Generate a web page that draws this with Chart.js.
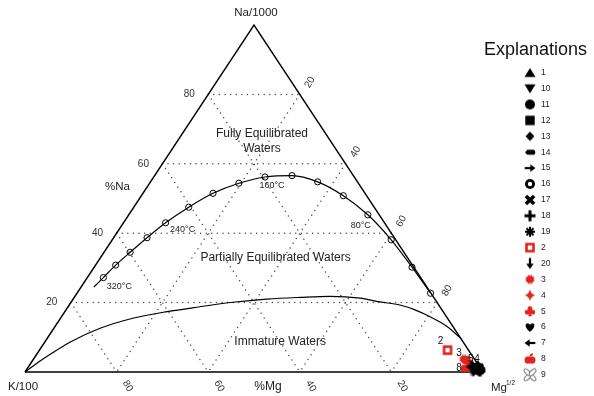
<!DOCTYPE html>
<html><head><meta charset="utf-8">
<script src="https://cdn.jsdelivr.net/npm/chart.js@4.4.1/dist/chart.umd.min.js"></script>
<style>html,body{margin:0;padding:0;background:#fff;}canvas{display:block;}</style>
</head><body>
<canvas id="c" width="594" height="396"></canvas>
<script>
// ---------------- DATA (ternary percentages: Na/1000, K/100, Mg^1/2) ----------------
const gridTicks = [20, 40, 60, 80];
const leftTickLabels = ['20', '40', '60', '80'];     // %Na at Na = 20..80
const rightTickLabels = ['80', '60', '40', '20'];    // along Na-Mg side at Na = 20..80
const bottomTickLabels = ['80', '60', '40', '20'];   // along base at Mg = 20..80

// Full-equilibrium line (temperature marks every 20 °C)
const eqTempC = [null, 320, 300, 280, 260, 240, 220, 200, 180, 160, 140, 120, 100, 80, 60, 40, 20];
const eqNa = [24.5, 27.2, 30.8, 34.5, 38.7, 43.0, 47.5, 51.5, 54.4, 56.2, 56.6, 54.8, 50.8, 45.3, 38.1, 30.2, 22.7];
const eqMg = [2.8, 3.5, 4.4, 5.7, 7.3, 9.2, 12.0, 15.3, 19.5, 24.3, 30.0, 36.5, 44.1, 52.2, 60.9, 69.4, 77.2];
const eqTempLabels = [320, 240, 160, 80];

// Immature-waters boundary
const immNa = [0, 3.2, 5.5, 8.6, 12.6, 15.5, 17.4, 18.8, 20.1, 21.0, 21.5, 21.8, 21.3, 20.2, 19.3, 17.9, 15.9, 13.1, 9.7];
const immMg = [0, 1.7, 3.2, 5.5, 10.1, 15.8, 22.3, 28.8, 35.4, 42.3, 49.3, 55.7, 62.5, 67.4, 72.2, 76.2, 80.5, 85.6, 90.3];

// Samples
const sampleNames = ['1', '10', '11', '12', '13', '14', '15', '16', '17', '18', '19', '2', '20', '3', '4', '5', '6', '7', '8', '9'];
const sampleNa = [0.8, 1.2, 0.5, 1.0, 1.6, 0.4, 1.3, 0.6, 1.8, 0.3, 1.1, 6.3, 0.2, 3.7, 2.3, 3.2, 0.9, 1.5, 1.4, 0.7];
const sampleK  = [0.6, 0.5, 0.8, 1.0, 0.4, 1.4, 1.2, 0.3, 0.9, 0.6, 0.2, 4.6, 2.0, 2.3, 1.7, 1.7, 1.6, 1.8, 3.0, 1.1];
const sampleMg = [98.6, 98.3, 98.7, 98.0, 98.0, 98.2, 97.5, 99.1, 97.3, 99.1, 98.7, 89.1, 97.8, 94.0, 96.0, 95.1, 97.5, 96.7, 95.6, 98.2];
const labelledSamples = ['2', '3', '5', '4', '8'];

const regionLabels = [['Fully Equilibrated', 'Waters'], ['Partially Equilibrated Waters'], ['Immature Waters']];

// ---------------- STYLE / LAYOUT ----------------
const FONT = '"Liberation Sans", Arial, sans-serif';
const RED = '#e3231d';
const sampleSymbols = ['triUp', 'triDown', 'circle', 'square', 'diamond', 'tag', 'arrowR', 'bull', 'xheavy', 'plus', 'aster', 'hollowSq', 'arrowD', 'sun', 'star4', 'club', 'heart', 'arrowL', 'apple', 'prop'];
const redSamples = ['2', '3', '4', '5', '8'];
const sampleLabelOffset = { '2': [-7, -9], '3': [-5, -6], '5': [3, -2], '4': [7, -5], '8': [-7, 1] };
const tempLabelOffset = { 320: [16, 9], 240: [17, 7], 160: [7, 9], 80: [-7, 11] };

function tern(na, k, mg) {
  const s = na + k + mg;
  return { x: (mg + na / 2) * 100 / s, y: na * 100 / s };
}

// symbol drawers (centred at 0,0)
const D = {
  triUp: c => { c.beginPath(); c.moveTo(0, -4.8); c.lineTo(5.5, 4.3); c.lineTo(-5.5, 4.3); c.closePath(); c.fill(); },
  triDown: c => { c.beginPath(); c.moveTo(0, 4.8); c.lineTo(5.5, -4.3); c.lineTo(-5.5, -4.3); c.closePath(); c.fill(); },
  circle: c => { c.beginPath(); c.arc(0, 0, 5, 0, 2 * Math.PI); c.fill(); },
  square: c => { c.fillRect(-4.7, -4.7, 9.4, 9.4); },
  diamond: c => { c.beginPath(); c.moveTo(0, -4.8); c.lineTo(4.4, 0); c.lineTo(0, 4.8); c.lineTo(-4.4, 0); c.closePath(); c.fill(); },
  tag: c => { c.beginPath(); c.moveTo(-5, 0.3); c.lineTo(-2.8, -2.5); c.lineTo(3.8, -2.5); c.quadraticCurveTo(5.3, -2.5, 5.3, 0); c.quadraticCurveTo(5.3, 2.5, 3.8, 2.5); c.lineTo(-2.8, 2.5); c.closePath(); c.fill(); },
  arrowR: c => { c.fillRect(-5.3, -1.1, 6.5, 2.2); c.beginPath(); c.moveTo(0.3, -3.8); c.lineTo(5.5, 0); c.lineTo(0.3, 3.8); c.closePath(); c.fill(); },
  arrowL: c => { c.fillRect(-1.2, -1.1, 6.5, 2.2); c.beginPath(); c.moveTo(-0.3, -3.8); c.lineTo(-5.5, 0); c.lineTo(-0.3, 3.8); c.closePath(); c.fill(); },
  arrowD: c => { c.fillRect(-1.1, -5.5, 2.2, 6.5); c.beginPath(); c.moveTo(-3.8, 0.2); c.lineTo(0, 5.5); c.lineTo(3.8, 0.2); c.closePath(); c.fill(); },
  bull: c => { c.beginPath(); c.arc(0, 0, 5, 0, 2 * Math.PI); c.fill(); c.fillStyle = '#fff'; c.beginPath(); c.arc(0, 0, 2.2, 0, 2 * Math.PI); c.fill(); },
  xheavy: c => { c.save(); c.rotate(Math.PI / 4); c.fillRect(-5.8, -1.8, 11.6, 3.6); c.fillRect(-1.8, -5.8, 3.6, 11.6); c.restore(); },
  plus: c => { c.fillRect(-5.5, -1.5, 11, 3); c.fillRect(-1.5, -5.5, 3, 11); },
  aster: c => { c.lineWidth = 2; c.lineCap = 'butt'; for (let i = 0; i < 4; i++) { const a = i * Math.PI / 4; c.beginPath(); c.moveTo(-5 * Math.cos(a), -5 * Math.sin(a)); c.lineTo(5 * Math.cos(a), 5 * Math.sin(a)); c.stroke(); } },
  hollowSq: c => { c.fillStyle = RED; c.fillRect(-4.8, -4.8, 9.6, 9.6); c.fillStyle = '#fff'; c.fillRect(-2.2, -2.2, 4.4, 4.4); },
  sun: c => { c.fillStyle = RED; c.beginPath(); const n = 16; for (let i = 0; i < 2 * n; i++) { const r = i % 2 ? 3.4 : 5.3; const a = i * Math.PI / n; c.lineTo(r * Math.cos(a), r * Math.sin(a)); } c.closePath(); c.fill(); },
  star4: c => { c.fillStyle = RED; c.beginPath(); c.moveTo(0, -6); c.quadraticCurveTo(0.9, -0.9, 5.5, 0); c.quadraticCurveTo(0.9, 0.9, 0, 6); c.quadraticCurveTo(-0.9, 0.9, -5.5, 0); c.quadraticCurveTo(-0.9, -0.9, 0, -6); c.fill(); },
  club: c => { c.fillStyle = RED; [[0, -2.7], [-2.8, 1], [2.8, 1]].forEach(p => { c.beginPath(); c.arc(p[0], p[1], 2.4, 0, 2 * Math.PI); c.fill(); }); c.beginPath(); c.arc(0, 0.3, 1.6, 0, 2 * Math.PI); c.fill(); c.beginPath(); c.moveTo(0, 0); c.lineTo(1.9, 5); c.lineTo(-1.9, 5); c.closePath(); c.fill(); },
  heart: c => { c.beginPath(); c.moveTo(0, 4.8); c.bezierCurveTo(-7, -0.5, -4.5, -6.5, 0, -2.6); c.bezierCurveTo(4.5, -6.5, 7, -0.5, 0, 4.8); c.fill(); },
  apple: c => { c.fillStyle = RED; c.beginPath(); c.arc(-1.9, 1.2, 3.6, 0, 2 * Math.PI); c.arc(1.9, 1.2, 3.6, 0, 2 * Math.PI); c.fill(); c.beginPath(); c.ellipse(1.4, -4.2, 1.9, 1.0, -0.6, 0, 2 * Math.PI); c.fill(); c.fillRect(-0.4, -3.6, 0.9, 2); },
  prop: c => { c.strokeStyle = '#8a8a8a'; c.fillStyle = '#fff'; c.lineWidth = 1.2; const ang = [Math.PI / 4, 3 * Math.PI / 4, 5 * Math.PI / 4, 7 * Math.PI / 4]; ang.forEach(a => { c.beginPath(); c.ellipse(3.6 * Math.cos(a), 3.6 * Math.sin(a), 4.3, 2.1, a, 0, 2 * Math.PI); c.fill(); c.stroke(); }); }
};

function makeSym(name) {
  const cv = document.createElement('canvas');
  const s = name === 'prop' ? 20 : 16;
  cv.width = s; cv.height = s;
  const c = cv.getContext('2d');
  c.translate(s / 2, s / 2);
  c.fillStyle = '#000'; c.strokeStyle = '#000';
  D[name](c);
  return cv;
}
const symCanvases = sampleSymbols.map(makeSym);

// ---------------- DATASETS ----------------
const datasets = [];
function lineDS(pts, extra) {
  return Object.assign({ type: 'scatter', data: pts, showLine: true, pointRadius: 0, borderColor: '#000', borderWidth: 1.2, fill: false, clip: false }, extra);
}
// grid
gridTicks.forEach(v => {
  const lines = [
    [tern(v, 100 - v, 0), tern(v, 0, 100 - v)],
    [tern(100 - v, v, 0), tern(0, v, 100 - v)],
    [tern(100 - v, 0, v), tern(0, 100 - v, v)]
  ];
  lines.forEach(l => datasets.push(lineDS(l, { borderColor: '#4a4a4a', borderWidth: 1.5, borderDash: [0, 5.6], borderCapStyle: 'round', order: 20 })));
});
// triangle
datasets.push(lineDS([tern(0, 100, 0), tern(0, 0, 100), tern(100, 0, 0), tern(0, 100, 0)], { borderWidth: 1.4, order: 10, borderJoinStyle: 'miter' }));
// immature curve
datasets.push(lineDS(immNa.map((n, i) => tern(n, 100 - n - immMg[i], immMg[i])), { cubicInterpolationMode: 'monotone', order: 8 }));
// full equilibrium curve
datasets.push(lineDS(eqNa.map((n, i) => tern(n, Math.max(0, 100 - n - eqMg[i]), eqMg[i])), {
  cubicInterpolationMode: 'monotone', order: 7,
  pointRadius: eqTempC.map(t => t === null ? 0 : 3.1), pointStyle: 'circle',
  pointBackgroundColor: 'rgba(0,0,0,0)', pointBorderColor: '#000', pointBorderWidth: 1
}));
const eqIndex = datasets.length - 1;
// samples
const sampleStart = datasets.length;
sampleNames.forEach((nm, i) => {
  datasets.push({ type: 'scatter', label: nm, data: [tern(sampleNa[i], sampleK[i], sampleMg[i])], pointStyle: symCanvases[i], pointRadius: 5, clip: false,
    order: redSamples.includes(nm) ? 2 : 1 });
});

// ---------------- TEXT PLUGIN ----------------
function txt(c, s, x, y, size, o) {
  o = o || {};
  c.save();
  c.font = (o.weight || '') + ' ' + size + 'px ' + FONT;
  c.fillStyle = o.color || '#222';
  c.textAlign = o.align || 'center';
  c.textBaseline = 'middle';
  c.translate(x, y);
  if (o.rot) c.rotate(o.rot * Math.PI / 180);
  c.fillText(s, 0, 0);
  c.restore();
}
const textPlugin = {
  id: 'ternText',
  afterDatasetsDraw(chart) {
    const c = chart.ctx, X = chart.scales.x, Y = chart.scales.y;
    const P = p => ({ x: X.getPixelForValue(p.x), y: Y.getPixelForValue(p.y) });
    // tick labels
    gridTicks.forEach((v, i) => {
      const l = P(tern(v, 100 - v, 0));
      txt(c, leftTickLabels[i], l.x - 19, l.y, 10, { color: '#333' });
      const r = P(tern(v, 0, 100 - v));
      txt(c, rightTickLabels[i], r.x + 10, r.y - 12, 10, { color: '#333', rot: -60 });
      const b = P(tern(0, 100 - v, v));
      txt(c, bottomTickLabels[i], b.x + 11, b.y + 14, 10, { color: '#333', rot: 60 });
    });
    // axis titles
    const top = P(tern(100, 0, 0)), kV = P(tern(0, 100, 0)), mV = P(tern(0, 0, 100));
    txt(c, 'Na/1000', top.x + 2, top.y - 12, 11.5);
    txt(c, 'K/100', kV.x - 2, kV.y + 15, 11.5);
    txt(c, '%Mg', (kV.x + mV.x) / 2 + 14, kV.y + 15, 12);
    txt(c, 'Mg', mV.x + 8, mV.y + 16, 11.5, { align: 'left' });
    txt(c, '1/2', mV.x + 23, mV.y + 11, 6.5, { align: 'left' });
    const naT = P(tern(50, 50, 0));
    txt(c, '%Na', naT.x - 22, naT.y - 12, 11.5);
    // region labels
    const fe = P(tern(68.6, 13.95, 17.45));
    txt(c, regionLabels[0][0], fe.x, fe.y, 12);
    txt(c, regionLabels[0][1], fe.x, fe.y + 14.5, 12);
    const pe = P(tern(32.8, 28.9, 38.3));
    txt(c, regionLabels[1][0], pe.x, pe.y, 12);
    const im = P(tern(8.6, 40, 51.4));
    txt(c, regionLabels[2][0], im.x, im.y, 12);
    // temperature labels
    const eqMeta = chart.getDatasetMeta(eqIndex);
    eqTempLabels.forEach(t => {
      const idx = eqTempC.indexOf(t);
      const el = eqMeta.data[idx];
      const off = tempLabelOffset[t];
      txt(c, t + '°C', el.x + off[0], el.y + off[1], 9, { color: '#222' });
    });
    // sample labels
    labelledSamples.forEach(nm => {
      const i = sampleNames.indexOf(nm);
      const el = chart.getDatasetMeta(sampleStart + i).data[0];
      const off = sampleLabelOffset[nm];
      txt(c, nm, el.x + off[0], el.y + off[1], 10, { color: '#111' });
    });
    // legend
    txt(c, 'Explanations', 535.5, 50, 18, { color: '#111' });
    sampleNames.forEach((nm, i) => {
      const y = 72.7 + i * 15.9;
      const sc = symCanvases[i];
      c.drawImage(sc, 530 - sc.width / 2, y - sc.height / 2);
      txt(c, nm, 541, y, 8.5, { align: 'left', color: '#222' });
    });
  }
};

new Chart(document.getElementById('c'), {
  type: 'scatter',
  data: { datasets },
  options: {
    responsive: false, animation: false, devicePixelRatio: 1,
    layout: { padding: 0, autoPadding: false },
    plugins: { legend: { display: false }, tooltip: { enabled: false } },
    scales: {
      x: { type: 'linear', display: false, min: -25 / 4.58, max: -25 / 4.58 + 594 / 4.58 },
      y: { type: 'linear', display: false, min: 372 / 3.47 - 396 / 3.47, max: 372 / 3.47 }
    }
  },
  plugins: [textPlugin]
});
</script>
</body></html>
